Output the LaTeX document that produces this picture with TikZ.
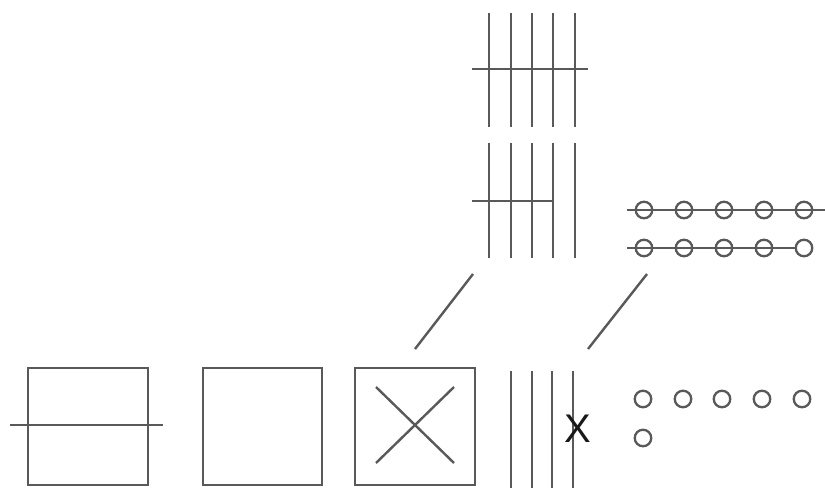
\documentclass[tikz,border=0pt]{standalone}
\usepackage{fontspec}
\setmainfont{Liberation Sans}
\begin{document}
\begin{tikzpicture}[x=1pt,y=-1pt,
  stroke/.style={draw=black!65,line width=2.9pt},
  thin stroke/.style={draw=black!65,line width=2.4pt},
  bead/.style={circle,draw=black!65,line width=2.3pt,minimum size=16.5pt,inner sep=0pt}]
\useasboundingbox[fill=white] (0,0) rectangle (825,488);

% upper rack of five bars, crossed by a full bar
\foreach \x in {489,511,532,553,575}
  \draw[stroke] (\x,13) -- (\x,127);
\draw[stroke] (472,69) -- (588,69);

% lower rack, crossed by a shorter bar
\foreach \x in {489,511,532,553,575}
  \draw[stroke] (\x,143) -- (\x,258);
\draw[stroke] (472,201) -- (553,201);

% two rows of threaded beads
\foreach \i/\x in {1/644,2/684,3/724,4/764,5/804}
  \node[bead] (ta\i) at (\x,210) {};
\foreach \i/\x in {1/644,2/684,3/724,4/764,5/804}
  \node[bead] (tb\i) at (\x,248) {};
\draw[thin stroke] (627,210) -- (825,210);
\draw[thin stroke] (627,248) -- (tb5.west);

% leader strokes
\coordinate (l1a) at (415,349);
\coordinate (l1b) at (473,274);
\coordinate (l2a) at (588,349);
\coordinate (l2b) at (647,274);
\draw[thin stroke] (l1a) -- (l1b);
\draw[thin stroke] (l2a) -- (l2b);

% bottom row of boxes
\draw[stroke] (28,368) rectangle (148,485);
\draw[stroke] (10,425) -- (163,425);
\draw[stroke] (203,368) rectangle (322,485);
\draw[stroke] (355,368) rectangle (475,485);
\draw[thin stroke] (376,387) -- (454,463);
\draw[thin stroke] (376,463) -- (454,387);

% bottom bars with a cross mark
\foreach \x in {511,532,552,573}
  \draw[stroke] (\x,371) -- (\x,488);
\node[inner sep=0pt,font=\fontsize{40}{40}\selectfont,text=black!90] (xm) at (578,429) {X};

% loose beads
\foreach \i/\x in {1/643,2/683,3/722,4/762,5/802}
  \node[bead] (b\i) at (\x,399) {};
\node[bead] (b6) at (643,438) {};
\end{tikzpicture}
\end{document}
